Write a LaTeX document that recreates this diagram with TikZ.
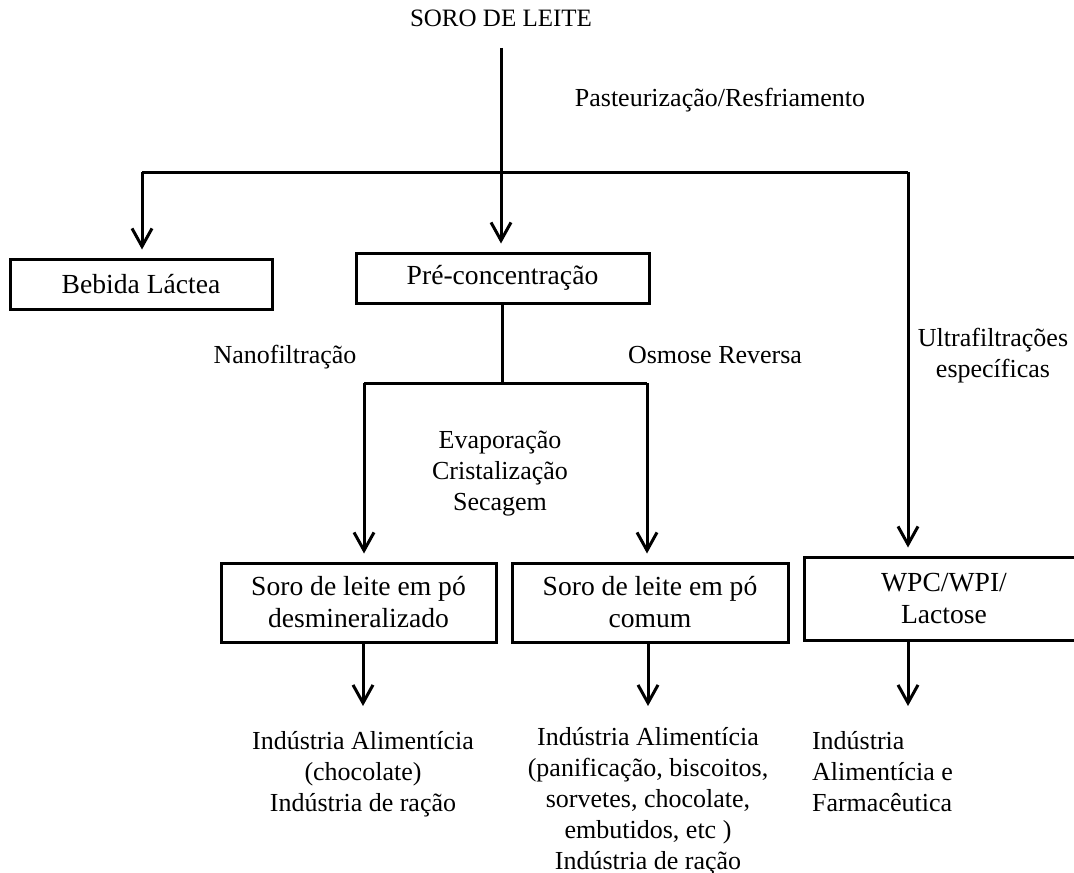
\documentclass[tikz,border=0pt]{standalone}
\usepackage{fontspec}
\setmainfont{Liberation Serif}
\usetikzlibrary{arrows.meta,positioning}

\tikzset{
  caixa/.style={draw, line width=1.5pt, align=center, inner sep=2pt,
    font=\fontsize{13.8}{16}\selectfont},
  rotulo/.style={align=center, font=\fontsize{13}{15.5}\selectfont},
  ligacao/.style={line width=1.5pt},
  seta/.style={ligacao, -{Straight Barb[length=9pt,width=10pt]}, shorten >=4pt},
}

\begin{document}
\begin{tikzpicture}[x=0.5pt, y=-0.5pt]
\useasboundingbox (0,0) rectangle (1074,872);

% entrada
\node[rotulo, font=\fontsize{12.5}{15.5}\selectfont] (soro) at (501,18) {SORO DE LEITE};
\node[rotulo] (past) at (720,100) {Pasteurização/Resfriamento};
\coordinate (topo) at (501,48);
\coordinate (ramo) at (501,172);
\coordinate (ramoE) at (142,172);
\coordinate (ramoD) at (908,172);

% caixas
\node[caixa, minimum width=131pt, minimum height=25pt] (bebida) at (141,284) {Bebida Láctea};
\node[caixa, minimum width=146.5pt, minimum height=25pt] (pre) at (502.5,278) {Pré-concentração};
\node[caixa, minimum width=137.5pt, minimum height=39.5pt] (desm) at (358.5,602.5) {Soro de leite em pó\\desmineralizado};
\node[caixa, minimum width=138pt, minimum height=39.5pt] (comum) at (650,602.5) {Soro de leite em pó\\comum};
\node[caixa, minimum width=140pt, minimum height=41.5pt] (wpc) at (944,598.5) {WPC/WPI/\\Lactose};

% processos
\node[rotulo] (nano) at (285,357) {Nanofiltração};
\node[rotulo] (osmo) at (715,355) {Osmose Reversa};
\node[rotulo] (evap) at (500,474) {Evaporação\\Cristalização\\Secagem};
\node[rotulo] (ultra) at (993,356) {Ultrafiltrações\\específicas};
\coordinate (divE) at (364,383);
\coordinate (divD) at (647,383);

% aplicacoes
\node[rotulo, anchor=north] (uso1) at (363,724) {Indústria Alimentícia\\(chocolate)\\Indústria de ração};
\node[rotulo, anchor=north] (uso2) at (648,720) {Indústria Alimentícia\\(panificação, biscoitos,\\sorvetes, chocolate,\\embutidos, etc )\\Indústria de ração};
\node[rotulo, anchor=north west, align=left] (uso3) at (805,724) {Indústria\\Alimentícia e\\Farmacêutica};

\draw[ligacao] (topo) -- (ramo);
\draw[ligacao] (ramoE) -- (ramoD);
\draw[seta] (ramoE) -- (ramoE |- bebida.north);
\draw[seta] (ramo) -- (ramo |- pre.north);
\draw[seta] (ramoD) -- (ramoD |- wpc.north);
\draw[ligacao] (pre.south) -- (pre.south |- divE);
\draw[ligacao] (divE) -- (divD);
\draw[seta] (divE) -- (divE |- desm.north);
\draw[seta] (divD) -- (divD |- comum.north);
%
\draw[seta, shorten >=9pt] (desm.south -| uso1.north) -- (uso1.north);
\draw[seta, shorten >=9pt] (comum.south -| uso2.north) -- (uso2.north |- uso1.north);
\draw[seta, shorten >=9pt] (ramoD |- wpc.south) -- (ramoD |- uso3.north);
\end{tikzpicture}
\end{document}
